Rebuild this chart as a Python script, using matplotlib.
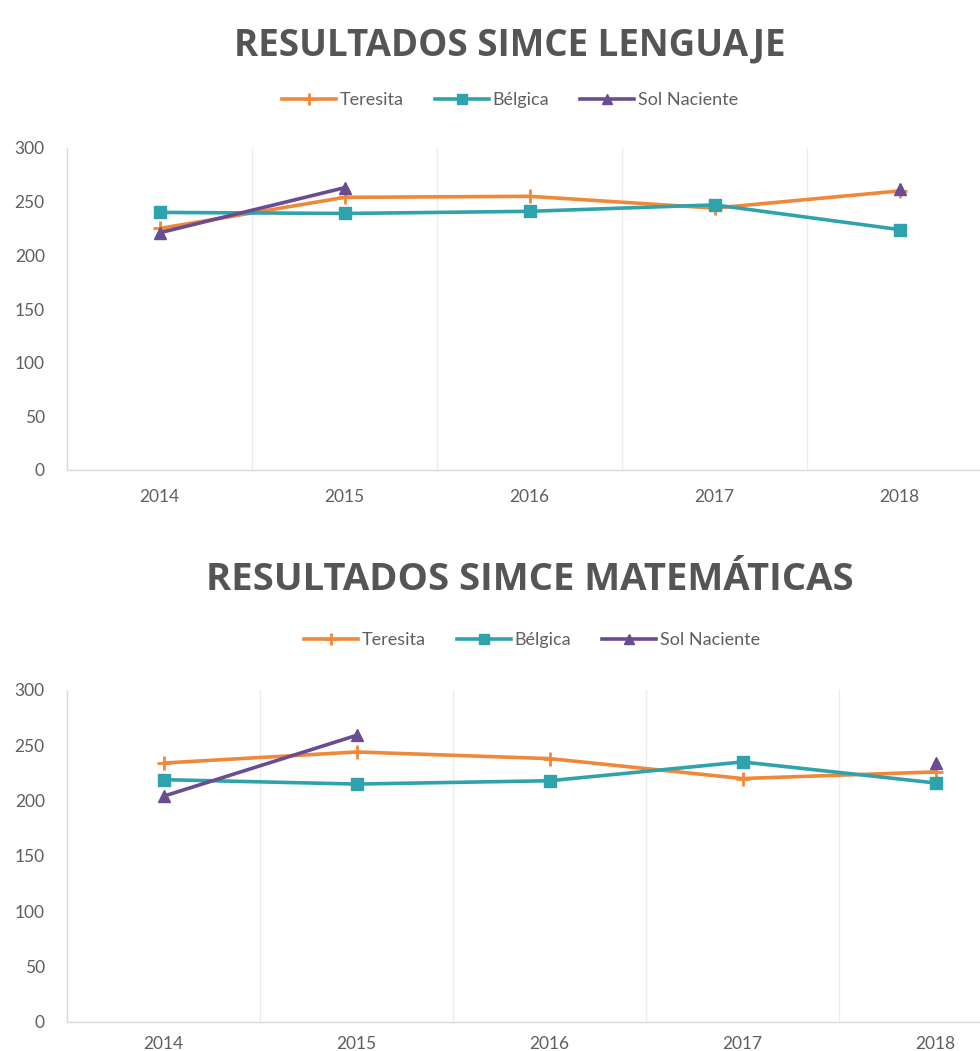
import numpy as np
import matplotlib
matplotlib.use("Agg")
import matplotlib.pyplot as plt
from matplotlib.lines import Line2D

plt.rcParams['font.family'] = ['Lato', 'DejaVu Sans']

years = ["2014", "2015", "2016", "2017", "2018"]
series_names = ["Teresita", "Bélgica", "Sol Naciente"]

leng_teresita = [225, 254, 255, 244, 260]
leng_belgica = [240, 239, 241, 247, 224]
leng_sol = [221, 263, np.nan, np.nan, 262]

mat_teresita = [234, 244, 238, 220, 226]
mat_belgica = [219, 215, 218, 235, 216]
mat_sol = [204, 259, np.nan, np.nan, 234]

yticks = [0, 50, 100, 150, 200, 250, 300]

colors = ["#F0883A", "#2FA3AB", "#6A4C93"]
markers = ["+", "s", "^"]
msizes = [10, 8, 9]
mews = [2.0, 1.0, 1.0]

W, H = 980, 1051
fig = plt.figure(figsize=(W / 100, H / 100), dpi=100)
fig.patch.set_facecolor("white")

grey = "#5f5f5f"


def px_axes(left, top, bottom, spacing):
    width = spacing * 5
    return fig.add_axes([left / W, (H - bottom) / H, width / W, (bottom - top) / H])


def draw(ax, data, pad_x):
    x = np.arange(len(years))
    for b in [0.5, 1.5, 2.5, 3.5]:
        ax.axvline(b, color="#ececec", lw=1.0, zorder=0)
    for i, (vals, c, m, ms, mw) in enumerate(zip(data, colors, markers, msizes, mews)):
        ax.plot(x, vals, color=c, lw=2.6, marker=m, markersize=ms, markeredgewidth=mw,
                markerfacecolor=c, markeredgecolor=c, zorder=3 + i, solid_capstyle="round")
    ax.set_xlim(-0.5, 4.5)
    ax.set_ylim(0, 300)
    ax.set_yticks(yticks)
    ax.set_xticks(x)
    ax.set_xticklabels(years)
    for s in ["top", "right"]:
        ax.spines[s].set_visible(False)
    for s in ["left", "bottom"]:
        ax.spines[s].set_color("#d9d9d9")
        ax.spines[s].set_linewidth(1.0)
    ax.tick_params(axis="both", length=0, colors=grey, labelsize=12.5)
    ax.tick_params(axis="y", pad=16)
    ax.tick_params(axis="x", pad=pad_x)
    ax.set_facecolor("none")


ax1 = px_axes(67, 148, 470, 185)
draw(ax1, [leng_teresita, leng_belgica, leng_sol], 14)

ax2 = px_axes(67, 690, 1022, 193)
draw(ax2, [mat_teresita, mat_belgica, mat_sol], 10)

fig.text(510 / W, 1 - 45 / H, "RESULTADOS SIMCE LENGUAJE", ha="center", va="center",
         fontsize=26.5, fontweight="bold", color="#555555", family=["Open Sans", "DejaVu Sans"])
fig.text(530 / W, 1 - 580 / H, "RESULTADOS SIMCE MATEMÁTICAS", ha="center", va="center",
         fontsize=27.5, fontweight="bold", color="#555555", family=["Open Sans", "DejaVu Sans"])

handles = [Line2D([0], [0], color=c, lw=2.6, marker=m, markersize=ms * 0.85, markeredgewidth=mw,
                  markerfacecolor=c, markeredgecolor=c)
           for c, m, ms, mw in zip(colors, markers, msizes, mews)]

for cx, cy in [(510, 100), (532, 640)]:
    fig.legend(handles, series_names, loc="center", bbox_to_anchor=(cx / W, 1 - cy / H),
               ncol=3, frameon=False, fontsize=13, handlelength=3.0, handletextpad=0.2,
               columnspacing=1.7, labelcolor=grey)

fig.savefig("out.png", dpi=100, facecolor="white")
